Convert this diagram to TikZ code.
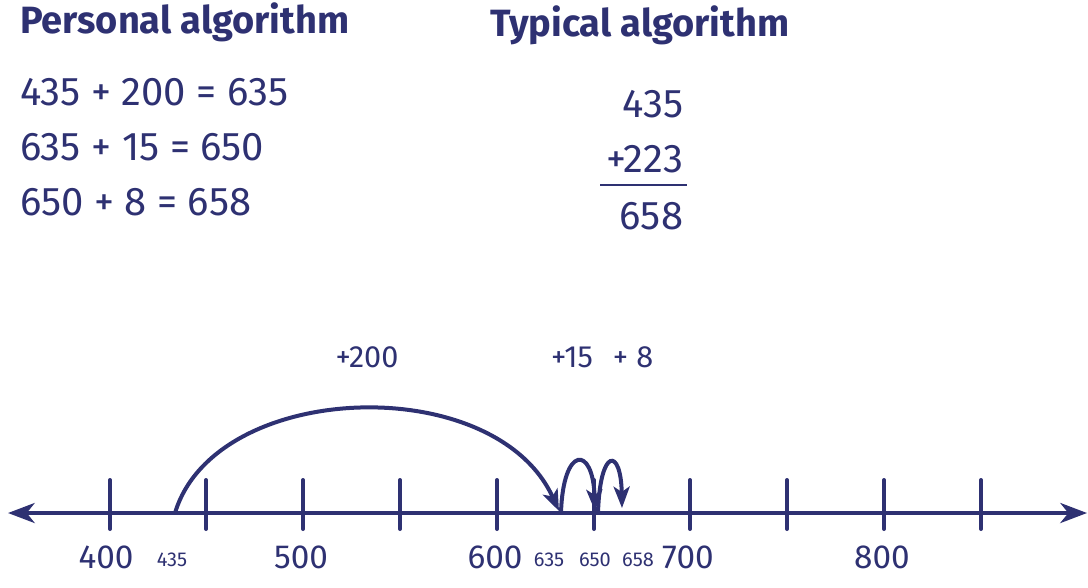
\documentclass[tikz,border=0pt]{standalone}
\usepackage{fontspec}
\setmainfont{Fira Sans}
\usetikzlibrary{arrows.meta}
\definecolor{navy}{RGB}{46,49,114}
\begin{document}
\begin{tikzpicture}[x=0.75pt,y=-0.75pt,
  every node/.style={text=navy,inner sep=0pt,outer sep=0pt},
  title/.style={font=\fontsize{28.5}{30}\selectfont\bfseries,anchor=base west},
  eqn/.style={font=\fontsize{30}{32}\selectfont,anchor=base west},
  col/.style={font=\fontsize{30}{32}\selectfont,anchor=base east},
  biglab/.style={font=\fontsize{25}{28}\selectfont,anchor=base},
  smalllab/.style={font=\fontsize{15}{18}\selectfont,anchor=base},
  jumplab/.style={font=\fontsize{23}{26}\selectfont,anchor=base},
  axisline/.style={draw=navy,line width=3pt,{Stealth[length=20pt,width=15pt,inset=6pt]}-{Stealth[length=20pt,width=15pt,inset=6pt]}},
  tickline/.style={draw=navy,line width=3pt,line cap=round},
  jump/.style={draw=navy,line width=3pt,-{Stealth[length=16pt,width=12pt,inset=4pt]}}
]
\useasboundingbox (0,0) rectangle (1088,587);
% titles
\node[title] (t1) at (20,33) {Personal algorithm};
\node[title] (t2) at (490,36) {Typical algorithm};
% personal algorithm
\node[eqn] (e1) at (20,105) {435 + 200 = 635};
\node[eqn] (e2) at (20,160) {635 + 15 = 650};
\node[eqn] (e3) at (20,215) {650 + 8 = 658};
% typical algorithm
\node[col] (c1) at (683,117) {435};
\node[col] (c2) at (683,172) {+223};
\node[col] (c3) at (683,229) {658};
\coordinate (bl) at (600,185);
\coordinate (br) at (687,185);
\draw[navy,line width=1.5pt] (bl) -- (br);
% number line
\coordinate (L) at (8,513);
\coordinate (R) at (1087,513);
\draw[axisline] (L) -- (R);
\foreach \x in {110,206,303,400,497,594,690,787,884,981}
  \draw[tickline] (\x,480) -- (\x,529);
% labels
\node[biglab] (n400) at (106,568) {400};
\node[biglab] (n500) at (301,568) {500};
\node[biglab] (n600) at (495,568) {600};
\node[biglab] (n700) at (688,568) {700};
\node[biglab] (n800) at (882,568) {800};
\node[smalllab] (s435) at (172,566) {435};
\node[smalllab] (s635) at (549,566) {635};
\node[smalllab] (s650) at (595,566) {650};
\node[smalllab] (s658) at (638,566) {658};
% jump labels
\node[jumplab] (j200) at (367,367) {+200};
\node[jumplab] (j15) at (572,367) {+15};
\node[jumplab] (j8) at (633,367) {+ 8};
% jumps
\coordinate (a435) at (175,513);
\coordinate (a635) at (559,511);
\coordinate (b635) at (561,513);
\coordinate (a650) at (595,511);
\coordinate (b650) at (598,513);
\coordinate (a658) at (622,508);
\draw[jump] (a435) .. controls (215,380) and (495,370) .. (a635);
\draw[jump] (b635) .. controls (563,445) and (593,445) .. (a650);
\draw[jump] (b650) .. controls (600,447) and (621,447) .. (a658);
\end{tikzpicture}
\end{document}
